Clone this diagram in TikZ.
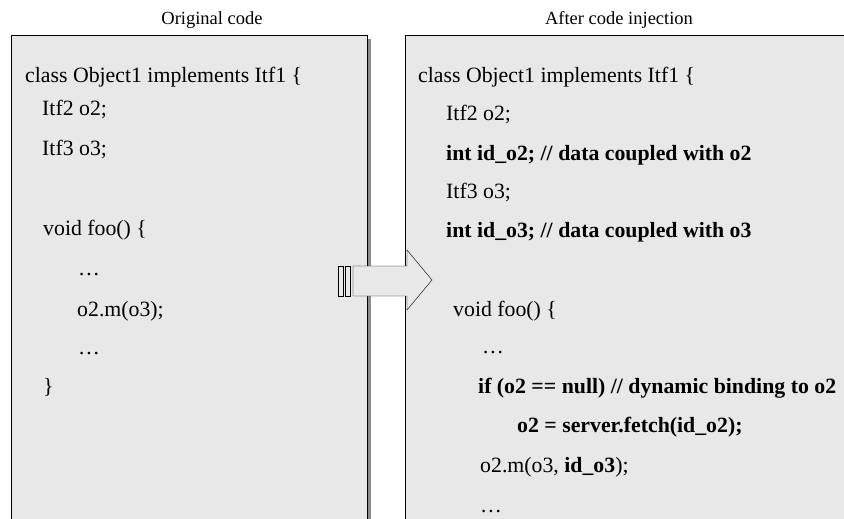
\documentclass[tikz,border=0pt]{standalone}
\usepackage{fontspec}
\setmainfont{Liberation Serif}
\definecolor{boxfill}{HTML}{E8E8E8}
\definecolor{boxshade}{HTML}{8C8C8C}

\begin{document}
\begin{tikzpicture}[x=1pt,y=-1pt,
  code/.style={anchor=base west,inner sep=0pt,font=\fontsize{21.8}{24}\selectfont},
  added/.style={code,font=\fontsize{21.8}{24}\selectfont\bfseries},
  title/.style={anchor=base,inner sep=0pt,font=\fontsize{18.5}{20}\selectfont}]
\useasboundingbox (0,0) rectangle (844,519);

% panels
\fill[boxshade] (367,39) rectangle (371,530);
\path (11,35) node[rectangle,anchor=north west,minimum width=356pt,minimum height=500pt,draw,fill=boxfill,line width=1pt] (orig) {};
\path (405,35) node[rectangle,anchor=north west,minimum width=460pt,minimum height=500pt,draw,fill=boxfill,line width=1pt] (inj) {};
\path (212,25) node[title] (origtitle) {Original code};
\path (619,25) node[title] (injtitle) {After code injection};

% hollow arrow between the panels
\draw[fill=boxfill] (338,266) rectangle (343,296);
\draw[fill=boxfill] (345,266) rectangle (350,296);
\draw[fill=boxfill] (353,266) -- (407,266) -- (407,250) -- (432,280) -- (407,310) -- (407,296) -- (353,296) -- cycle;

% original code
\path (25,82) node[code] (o1) {class Object1 implements Itf1 \{};
\path (42,115) node[code] (o2) {Itf2 o2;};
\path (42,155) node[code] (o3) {Itf3 o3;};
\path (43,235) node[code] (o4) {void foo() \{};
\path (78,275) node[code] (o5) {\ldots};
\path (77,316) node[code] (o6) {o2.m(o3);};
\path (78,354) node[code] (o7) {\ldots};
\path (43,393) node[code] (o8) {\}};

% code after injection
\path (418,82) node[code] (i1) {class Object1 implements Itf1 \{};
\path (446,121) node[code] (i2) {Itf2 o2;};
\path (446,160) node[added] (i3) {int id\_o2; // data coupled with o2};
\path (446,198) node[code] (i4) {Itf3 o3;};
\path (446,237) node[added] (i5) {int id\_o3; // data coupled with o3};
\path (453,316) node[code] (i6) {void foo() \{};
\path (482,353) node[code] (i7) {\ldots};
\path (478,393) node[added] (i8) {if (o2 == null) // dynamic binding to o2};
\path (517,432) node[added] (i9) {o2 = server.fetch(id\_o2);};
\path (480,472) node[code] (i10) {o2.m(o3, \textbf{id\_o3});};
\path (480,512) node[code] (i11) {\ldots};
\end{tikzpicture}
\end{document}
